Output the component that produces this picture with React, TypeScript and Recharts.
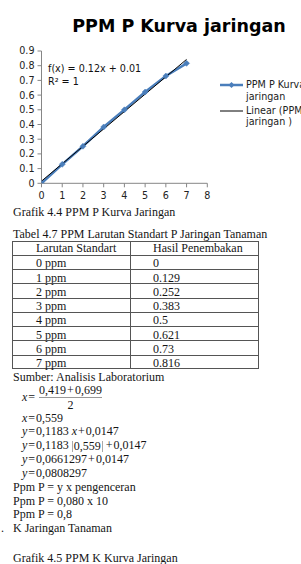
import React from 'react';
import { LineChart, Line, XAxis, YAxis } from 'recharts';

const xValues = [0, 1, 2, 3, 4, 5, 6, 7];
const yValues = [0, 0.129, 0.252, 0.383, 0.5, 0.621, 0.73, 0.816];
const trendX = [0, 7];
const trendY = [0.0147, 0.8428];
const xTicks = [0, 1, 2, 3, 4, 5, 6, 7, 8];
const yTicks = [0, 0.1, 0.2, 0.3, 0.4, 0.5, 0.6, 0.7, 0.8, 0.9];
const seriesName = 'PPM P Kurva jaringan';
const trendName = 'Linear (PPM P jaringan )';

const seriesData = xValues.map((x, i) => ({ x, y: yValues[i] }));
const trendData = trendX.map((x, i) => ({ x, y: trendY[i] }));

const BLUE = '#4a7ebb';
const AXIS = '#868686';
const SANS = '"DejaVu Sans", sans-serif';
const SERIF = '"Liberation Serif", "Times New Roman", serif';
const TEXT = '#151515';

const Diamond = (props: any) => {
  const { cx, cy } = props;
  if (cx == null || cy == null) return null;
  const r = 3;
  return (
    <polygon
      points={`${cx},${cy - r} ${cx + r},${cy} ${cx},${cy + r} ${cx - r},${cy}`}
      fill={BLUE}
      stroke={BLUE}
      strokeWidth={0.5}
    />
  );
};

const LegendBox = () => (
  <div style={{ position: 'absolute', left: 220, top: 79, fontFamily: SANS, fontSize: 9.6, color: '#222', lineHeight: '11.5px', whiteSpace: 'nowrap' }}>
    <div style={{ position: 'relative', height: 25.5 }}>
      <svg width={24} height={8} style={{ position: 'absolute', left: 0, top: 2 }}>
        <line x1={0} y1={4} x2={23} y2={4} stroke={BLUE} strokeWidth={2.5} />
        <polygon points="11.5,1 14.5,4 11.5,7 8.5,4" fill={BLUE} />
      </svg>
      <div style={{ position: 'absolute', left: 26, top: 0 }}>
        <div>PPM P Kurva</div>
        <div>jaringan</div>
      </div>
    </div>
    <div style={{ position: 'relative', height: 25 }}>
      <svg width={24} height={8} style={{ position: 'absolute', left: 0, top: 2 }}>
        <line x1={0} y1={4} x2={23} y2={4} stroke="#000" strokeWidth={1} />
      </svg>
      <div style={{ position: 'absolute', left: 26, top: 0 }}>
        <div>Linear (PPM P</div>
        <div>jaringan )</div>
      </div>
    </div>
  </div>
);

const Var = ({ c }: { c: string }) => <span style={{ fontStyle: 'italic' }}>{c}</span>;
const Op = ({ c }: { c: string }) => <span style={{ margin: '0 1px' }}>{c}</span>;

const line = (top: number, left: number, content: React.ReactNode, key: string) => (
  <div
    key={key}
    style={{ position: 'absolute', top, left, fontFamily: SERIF, fontSize: 12, lineHeight: '14px', color: TEXT, whiteSpace: 'nowrap' }}
  >
    {content}
  </div>
);

const rowH = 14.25;

export default function App() {
  const tableRows = [['Larutan Standart', 'Hasil Penembakan'], ...xValues.map((x, i) => [`${x} ppm`, String(yValues[i])])];
  return (
    <div style={{ position: 'absolute', left: 0, top: 0, width: 301, height: 564, overflow: 'hidden', background: '#fff' }}>
      <div
        style={{
          position: 'absolute', left: 0, width: 358, top: 16, textAlign: 'center',
          fontFamily: SANS, fontWeight: 'bold', fontSize: 17.5, lineHeight: '20px', color: '#000', whiteSpace: 'nowrap',
        }}
      >
        {seriesName}
      </div>
      <div style={{ position: 'absolute', left: 0, top: 0 }}>
        <LineChart width={301} height={202} margin={{ top: 51, right: 93.7, bottom: 2, left: 0 }}>
          <XAxis
            type="number"
            dataKey="x"
            domain={[0, 8]}
            ticks={xTicks}
            height={16.7}
            tickSize={4}
            tickMargin={5}
            axisLine={{ stroke: AXIS }}
            tickLine={{ stroke: AXIS }}
            tick={{ fontSize: 9.6, fill: '#222', fontFamily: SANS }}
            interval={0}
            allowDataOverflow
          />
          <YAxis
            type="number"
            domain={[0, 0.9]}
            ticks={yTicks}
            width={41.5}
            tickSize={4}
            tickMargin={3}
            axisLine={{ stroke: AXIS }}
            tickLine={{ stroke: AXIS }}
            tick={{ fontSize: 9.6, fill: '#222', fontFamily: SANS }}
            interval={0}
            allowDataOverflow
          />
          <Line
            data={seriesData}
            dataKey="y"
            name={seriesName}
            stroke={BLUE}
            strokeWidth={2.5}
            dot={<Diamond />}
            activeDot={false}
            isAnimationActive={false}
          />
          <Line
            data={trendData}
            dataKey="y"
            name={trendName}
            stroke="#000"
            strokeWidth={1}
            dot={false}
            activeDot={false}
            isAnimationActive={false}
          />
        </LineChart>
      </div>
      <LegendBox />
      <div style={{ position: 'absolute', left: 48, top: 63, fontFamily: SANS, fontSize: 9.6, lineHeight: '12.5px', color: '#111', whiteSpace: 'nowrap' }}>
        <div>f(x) = 0.12x + 0.01</div>
        <div>R² = 1</div>
      </div>

      {line(205, 13, 'Grafik 4.4 PPM P Kurva Jaringan', 'g44')}
      {line(227, 13, 'Tabel 4.7 PPM Larutan Standart P Jaringan Tanaman', 't47')}

      <div style={{ position: 'absolute', left: 12, top: 240.5, width: 247, height: rowH * tableRows.length, border: '1px solid #555', boxSizing: 'border-box' }}>
        <div style={{ position: 'absolute', left: 116.5, top: 0, bottom: 0, borderLeft: '1px solid #555' }} />
        {tableRows.map((r, i) => (
          <div key={i} style={{ position: 'absolute', left: 0, right: 0, top: i * rowH - 1, height: rowH, borderTop: i > 0 ? '1px solid #555' : 'none', boxSizing: 'border-box' }}>
            <div style={{ position: 'absolute', left: 23, top: 0.5, fontFamily: SERIF, fontSize: 12, lineHeight: '14px', color: TEXT, whiteSpace: 'nowrap' }}>{r[0]}</div>
            <div style={{ position: 'absolute', left: 140, top: 0.5, fontFamily: SERIF, fontSize: 12, lineHeight: '14px', color: TEXT, whiteSpace: 'nowrap' }}>{r[1]}</div>
          </div>
        ))}
      </div>

      {line(369.5, 13, 'Sumber: Analisis Laboratorium', 'src')}

      <div style={{ position: 'absolute', left: 22, top: 383, fontFamily: SERIF, fontSize: 12, color: TEXT, whiteSpace: 'nowrap', height: 30 }}>
        <div style={{ position: 'absolute', left: 0, top: 6.5, lineHeight: '14px' }}><Var c="x" /><Op c="=" /></div>
        <div style={{ position: 'absolute', left: 17, top: 0, width: 63, textAlign: 'center', lineHeight: '14px' }}>0,419<Op c="+" />0,699</div>
        <div style={{ position: 'absolute', left: 17, top: 14, width: 63, borderTop: '1px solid #999' }} />
        <div style={{ position: 'absolute', left: 17, top: 15, width: 63, textAlign: 'center', lineHeight: '14px' }}>2</div>
      </div>

      {line(410.5, 22, <><Var c="x" /><Op c="=" />0,559</>, 'f1')}
      {line(424, 22, <><Var c="y" /><Op c="=" />0,1183<span style={{ marginLeft: 3 }} /><Var c="x" /><Op c="+" />0,0147</>, 'f2')}
      {line(438, 22, <><Var c="y" /><Op c="=" />0,1183<span style={{ display: 'inline-block', margin: '0 2px 0 3px', padding: '0 1px', borderLeft: '1px solid #aaa', borderRight: '1px solid #aaa', height: 11, verticalAlign: 'middle', lineHeight: '11px' }}>0,559</span><Op c="+" />0,0147</>, 'f3')}
      {line(452, 22, <><Var c="y" /><Op c="=" />0,0661297<Op c="+" />0,0147</>, 'f4')}
      {line(465.5, 22, <><Var c="y" /><Op c="=" />0,0808297</>, 'f5')}

      {line(479.5, 13, 'Ppm P = y x pengenceran', 'p1')}
      {line(493.5, 13, 'Ppm P = 0,080 x 10', 'p2')}
      {line(507, 13, 'Ppm P = 0,8', 'p3')}
      {line(521, 1, '.', 'dot')}
      {line(521, 13, 'K Jaringan Tanaman', 'k')}
      {line(551, 13, 'Grafik 4.5 PPM K Kurva Jaringan', 'g45')}
    </div>
  );
}
